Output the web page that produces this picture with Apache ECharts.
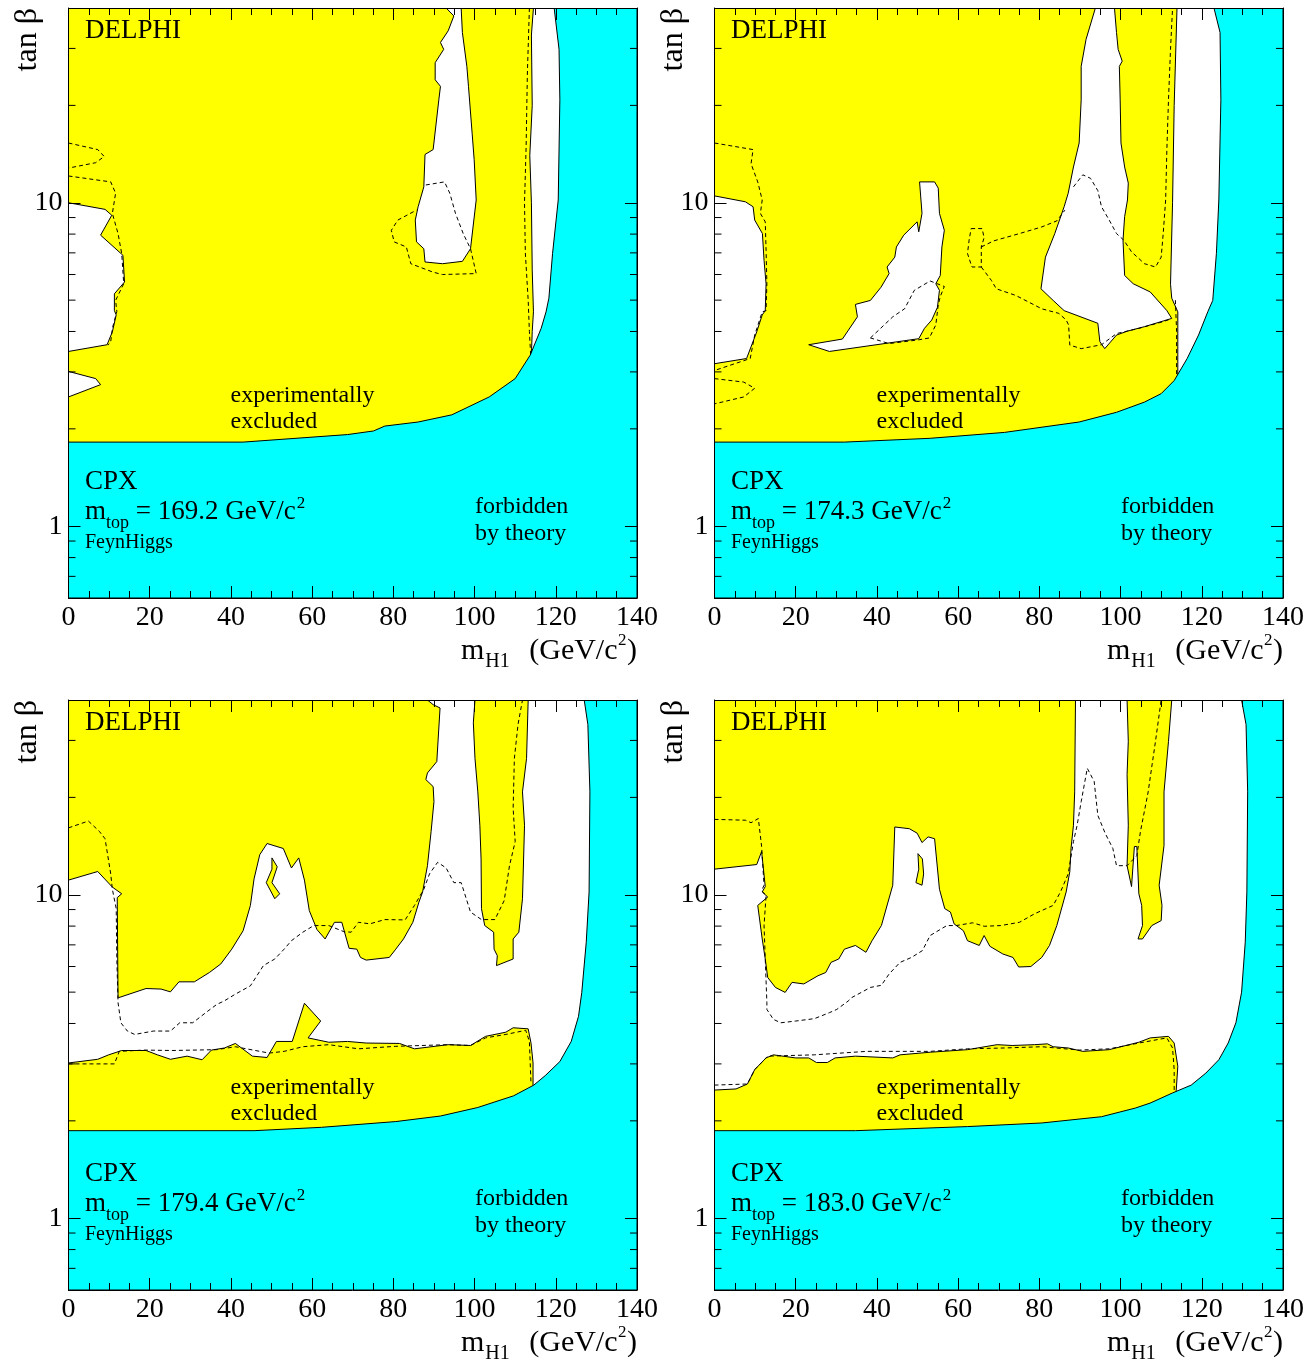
<!DOCTYPE html>
<html><head><meta charset="utf-8">
<script src="https://cdn.jsdelivr.net/npm/echarts/dist/echarts.min.js"></script>
<style>html,body{margin:0;padding:0;background:#fff}#c{width:1316px;height:1362px}</style>
</head><body><div id="c"></div>
<script>
// ---------- axis definitions ----------
const XMIN = 0, XMAX = 140, YMIN = 0.6, YMAX = 40;
const xInterval = 20;
const yLabelTicks = [1, 10];
const yMinorTicks = [0.7, 0.8, 0.9, 2, 3, 4, 5, 6, 7, 8, 9, 20, 30];
const topMasses = ['169.2', '174.3', '179.4', '183.0'];

// ---------- panel 1 (mtop = 169.2) ----------
const p1Theory = [[0,1.82],[43,1.82],[68.7,1.92],[75.1,1.97],[77.9,2.04],[86.1,2.10],[94.4,2.21],[103.6,2.51],[110,2.86],[113.7,3.38],[116.4,4.09],[117.6,4.6],[118.3,5.07],[119.2,6.96],[120.6,10.2],[121,20.8],[120.8,29.8],[119.6,40]];
const p1Excluded = [[0,40],[114.5,40],[114.0,33],[114.2,20],[113.6,14],[114.0,10],[114.2,6.2],[114.5,4.6],[114.2,4.0],[114.0,3.4],[114.0,0.6],[0,0.6]];
const p1AllowedA = [[0,10],[9.0,9.54],[10.65,9.15],[7.9,7.94],[13.4,6.88],[13.8,5.69],[11.3,5.23],[11.3,4.64],[11.75,4.5],[10.8,3.99],[9.5,3.64],[0,3.47]];
const p1AllowedB = [[0,3.01],[6.7,2.86],[7.9,2.74],[0,2.51]];
const p1AllowedC = [[93.0,40],[94.9,37.8],[93.5,34.0],[91.6,31.3],[92.4,29.8],[90.3,27.1],[90.3,24.0],[91.6,22.9],[91.2,20.8],[89.8,14.6],[87.8,14.1],[87.5,11.2],[86.1,9.72],[85.4,8.84],[85.7,7.57],[87.5,7.21],[87.8,6.56],[92.1,6.48],[97.0,6.59],[99.0,7.21],[100.4,10.2],[99.9,13.6],[99.4,16.4],[98.5,22.9],[98.1,26.4],[97.0,33.6],[96.7,40]];
const p1Exp1 = [[113.5,40],[113.0,25],[112.7,15],[112.3,10],[112.5,7],[113.2,5],[113.5,4],[113.8,3.4]];
const p1Exp2 = [[88.0,11.35],[92.6,11.6],[93.9,10.7],[95.3,9.27],[97.2,8.03],[99.0,7.21],[100.4,6.04],[92.1,6.0],[89.8,6.1],[84.3,6.48],[83.2,7.3],[80.2,7.57],[79.5,8.22],[81.1,8.84],[85.7,9.49]];
const p1Exp3 = [[0,15.3],[7.2,14.6],[8.8,13.9],[6.7,13.3],[0,12.8]];
const p1Exp4 = [[0,12.1],[10.4,11.6],[11.6,10.7],[10.8,9.27],[12.2,8.03],[13.1,6.97],[13.6,5.62],[11.6,4.99],[11.9,4.61],[10.8,4.09],[10.4,3.72],[9.7,3.63]];

// ---------- panel 2 (mtop = 174.3) ----------
const p2Theory = [[0,1.82],[32,1.82],[53.1,1.87],[71.4,1.95],[89.8,2.10],[99,2.25],[105.9,2.42],[110,2.57],[113.2,2.82],[116.4,3.30],[119.2,3.90],[121.5,4.61],[122.7,4.99],[123.6,6.97],[124.2,10.2],[124.7,20.8],[124.5,33.6],[123,40]];
const p2Excluded = [[0,40],[113.9,40],[113.2,20],[112.8,10],[112.3,5.6],[112.6,5.07],[114.1,4.6],[114.1,2.85],[114.1,0.6],[0,0.6]];
const p2AllowedA = [[0,10.5],[7.6,10.07],[9.5,9.72],[9.9,8.84],[11.8,8.03],[12.2,6.64],[12.7,5.62],[12.5,4.64],[11.75,4.5],[10.4,3.99],[7.9,3.30],[0,3.18]];
const p2AllowedB = [[50.5,11.6],[54.2,11.6],[55.1,11.1],[55.4,9.27],[56.6,8.22],[56.0,7.30],[55.6,5.96],[54.5,5.62],[55.4,5.36],[54.9,4.75],[53.5,4.34],[51.7,4.09],[50.3,3.80],[28.3,3.47],[23.2,3.64],[31.5,3.79],[35.2,4.44],[34.7,4.85],[38.4,4.99],[41.0,5.48],[43.0,6.04],[42.5,6.33],[44.4,6.79],[44.8,7.30],[46.6,7.94],[49.9,8.73],[50.3,8.13],[51.1,9.27]];
const p2AllowedC = [[93.8,40],[91.5,32.0],[90.3,26.4],[90.3,20.8],[89.8,15.3],[88.4,12.9],[87.1,10.7],[86.1,9.72],[83.8,8.03],[81.5,6.79],[80.4,5.42],[83.4,4.99],[86.1,4.64],[94.4,4.24],[94.9,3.72],[96.1,3.54],[99.0,3.90],[101.7,4.01],[105.9,4.14],[110.5,4.31],[112.6,4.39],[111.4,4.64],[107.3,5.30],[103.1,5.62],[101.0,5.96],[100.6,7.66],[101.0,9.06],[101.7,10.2],[101.9,11.5],[101.0,12.9],[100.1,15.3],[99.9,20.8],[99.7,26.4],[100.4,27.4],[99.4,29.8],[99.0,33.6],[98.5,40]];
const p2Exp1 = [[0,15.3],[9.5,14.6],[9.0,13.2],[10.65,11.6],[11.75,10.2],[11.3,9.27],[12.5,8.73],[12.7,7.13],[12.9,5.62],[12.7,4.64],[11.75,4.6],[9.9,3.90],[8.8,3.30],[0,3.03]];
const p2Exp2 = [[0,2.86],[7.2,2.79],[9.9,2.67],[7.2,2.51],[0,2.39]];
const p2Exp3 = [[38.4,3.82],[43.9,4.44],[46.8,4.70],[49.2,5.36],[53.1,5.73],[56.6,5.51],[55.6,5.13],[55.1,4.83],[54.5,4.19],[52.9,3.82],[50.3,3.77],[43.0,3.67],[38.4,3.82]];
const p2Exp4 = [[63.2,8.32],[65.9,8.32],[66.4,7.80],[65.7,7.30],[65.7,6.33],[63.4,6.33],[62.3,6.97],[62.7,7.66],[63.2,8.32]];
const p2Exp5 = [[65.7,7.30],[68.7,7.62],[75.1,8.03],[80.6,8.42],[84.3,8.79],[86.3,9.49]];
const p2Exp6 = [[65.7,6.33],[68.2,5.75],[69.4,5.42],[74.2,5.17],[80.6,4.70],[84.8,4.55],[86.6,4.34],[87.2,4.19],[87.5,3.63],[90.3,3.54],[95.3,3.64],[99.0,3.94],[104.5,4.09],[110.5,4.29],[112.3,4.37]];
const p2Exp7 = [[88.4,11.2],[90.7,12.2],[92.6,11.9],[94.4,10.9],[95.3,9.72],[97.2,8.84],[99.0,8.03],[100.8,7.66],[102.7,7.05],[105.9,6.48],[108.6,6.33],[110.0,6.79],[110.5,8.03],[111.1,10.2],[111.4,14.6],[111.8,20.8],[112.3,29.8],[112.8,40]];
const p2Exp8 = [[113.5,5.0],[113.8,4.0],[113.8,2.9]];

// ---------- panel 3 (mtop = 179.4) ----------
const p3Theory = [[0,1.865],[45.7,1.865],[62.3,1.91],[80.6,1.99],[91.6,2.07],[100.8,2.20],[109.6,2.39],[114.6,2.58],[117.4,2.76],[121,3.05],[123.8,3.52],[125.6,4.21],[126.4,4.99],[127.5,7.13],[128.2,10.2],[128.4,20.8],[127.9,33.6],[127,40]];
const p3ExcludedHigh = [[0,40],[88.4,40],[89.8,38.7],[91.5,37.8],[90.7,25.8],[88.4,23.8],[88.0,22.7],[89.8,21.6],[90.0,19.4],[89.3,15.7],[88.4,12.3],[87.2,10.2],[86.3,9.49],[84.8,8.22],[82.5,7.30],[80.6,6.79],[79.0,6.40],[73.3,6.28],[71.9,6.40],[71.0,6.79],[69.1,6.83],[67.3,8.22],[65.5,8.22],[63.2,7.30],[61.2,7.80],[59.3,8.93],[58.1,11.1],[56.7,13.0],[54.9,12.1],[52.9,13.9],[48.9,14.4],[47.1,13.3],[45.7,11.2],[44.8,9.27],[43.0,7.74],[40.2,6.79],[37.5,6.11],[34.7,5.75],[31.0,5.38],[27.2,5.38],[25.1,5.01],[22.8,5.11],[19.1,5.13],[12.2,4.8],[12.0,9.8],[13.1,10.07],[10.8,10.56],[7.2,11.8],[0,11.1]];
const p3ExcludedIsland = [[50.1,13.0],[51.4,12.2],[50.1,10.9],[52.0,10.07],[50.8,9.72],[48.7,10.9],[50.1,12.0]];
const p3ExcludedStrip = [[100.1,40],[99.7,34.0],[100.1,26.4],[100.8,20.8],[101.3,16.4],[101.6,12.9],[101.7,9.06],[102.5,8.03],[104.7,7.66],[104.8,6.79],[105.6,6.48],[105.4,6.04],[109.5,6.33],[109.5,7.30],[110.9,7.66],[111.8,9.72],[112.3,16.4],[111.8,20.8],[112.8,26.4],[113.2,40]];
const p3ExcludedLow = [[0,3.02],[7.2,3.10],[9.9,3.20],[13.1,3.30],[19.1,3.30],[21.9,3.20],[25.1,3.10],[29.2,3.17],[32.9,3.09],[35.2,3.31],[38.4,3.36],[41.1,3.47],[45.3,3.17],[48.9,3.14],[51.2,3.52],[55.1,3.52],[58.1,4.62],[62.1,4.07],[59.0,3.61],[64.1,3.50],[68.7,3.52],[73.3,3.48],[81.5,3.47],[85.2,3.34],[93.5,3.44],[99.0,3.42],[102.7,3.65],[107.7,3.76],[109.5,3.88],[113.2,3.85],[113.9,3.48],[114.4,3.02],[114.4,2.58],[114.4,0.6],[0,0.6]];
const p3Exp1 = [[0,16.1],[4.9,16.9],[7.6,15.7],[9.0,14.9],[10.4,11.6],[10.8,10.4],[11.75,9.06],[11.9,6.33],[12.2,4.64],[12.9,4.02],[14.5,3.79],[16.3,3.70],[20.9,3.79],[25.1,3.79],[27.4,4.02],[30.6,4.02],[33.8,4.32],[36.5,4.58],[38.4,4.70],[41.1,4.93],[44.8,5.23],[48.0,6.04],[50.8,6.33],[53.1,6.79],[54.9,7.21],[57.7,7.66],[60.4,8.03],[64.1,8.03],[67.8,7.69],[69.6,7.66],[71.4,8.22],[74.2,8.13],[77.9,8.38],[82.9,8.36],[85.2,9.27],[87.5,10.4],[88.9,11.6],[90.9,12.6],[93.0,12.1],[94.9,10.9],[96.7,10.9],[99.0,8.84],[101.7,8.38],[105.0,8.38],[107.3,9.60],[108.6,12.3],[110.0,14.6],[109.5,18.5],[109.8,26.4],[110.7,33.6],[111.8,40]];
const p3Exp2 = [[0,3.00],[11.3,3.00],[12.5,3.28],[18.6,3.31],[25.5,3.30],[36.5,3.32],[41.1,3.39],[49.4,3.24],[53.1,3.28],[57.7,3.39],[64.1,3.44],[71.4,3.34],[80.6,3.40],[93.5,3.44],[99.0,3.42],[102.7,3.61],[107.7,3.70],[112.6,3.81],[113.5,3.52],[113.7,3.02],[113.9,2.60]];

// ---------- panel 4 (mtop = 183.0) ----------
const p4Theory = [[0,1.865],[34.7,1.865],[62.3,1.92],[80.6,1.97],[95.3,2.06],[103.6,2.19],[107.3,2.27],[112.8,2.44],[117.4,2.58],[121,2.81],[124.2,3.09],[126.5,3.48],[128.4,4.02],[129.8,5.0],[130.7,7.13],[131.1,10.2],[131.3,20.8],[130.9,33.6],[129.8,40]];
const p4ExcludedHigh = [[0,40],[88.9,40],[88.7,20.8],[88.4,16.4],[87.8,13.9],[87.5,11.8],[86.6,10.2],[84.3,8.03],[82.5,6.97],[80.6,6.40],[77.9,6.0],[74.9,5.98],[73.5,6.40],[71.0,6.56],[67.8,6.93],[66.4,7.48],[65.2,6.97],[62.3,7.21],[61.3,7.74],[59.0,8.13],[58.1,8.84],[56.7,9.06],[55.4,10.4],[54.2,14.9],[52.6,15.1],[51.1,14.5],[49.9,15.5],[48.0,16.0],[44.4,16.2],[43.9,10.7],[41.1,8.03],[38.8,7.21],[37.3,6.64],[34.7,6.97],[32.0,6.79],[30.6,6.33],[28.7,6.18],[27.4,5.75],[25.5,5.62],[22.0,5.30],[19.1,5.36],[17.4,4.99],[15.0,5.17],[13.1,5.55],[12.5,6.33],[11.75,7.30],[10.65,9.27],[13.1,9.84],[11.75,10.2],[12.5,10.6],[11.6,13.6],[10.4,12.4],[0,12.0]];
const p4ExcludedIsland = [[50.1,13.4],[51.2,12.9],[51.5,11.6],[51.1,10.7],[49.6,10.9],[50.3,12.0]];
const p4ExcludedStrip = [[101.6,40],[101.9,29.8],[101.6,23.5],[101.9,16.4],[101.6,12.3],[102.7,10.6],[103.4,14.1],[104.0,14.1],[104.5,10.07],[105.2,9.27],[105.4,8.03],[104.3,7.30],[105.4,7.30],[107.7,8.03],[110.0,8.32],[110.2,9.27],[109.5,10.7],[110.7,14.2],[110.7,20.8],[111.8,29.8],[112.6,40]];
const p4ExcludedLow = [[0,2.49],[5.3,2.51],[8.1,2.60],[9.9,2.88],[12.7,3.13],[14.5,3.20],[20.0,3.13],[23.2,3.13],[25.1,3.03],[27.8,3.03],[29.7,3.13],[34.7,3.17],[43.9,3.13],[45.7,3.20],[53.1,3.26],[62.3,3.32],[69.6,3.44],[73.3,3.42],[78.8,3.44],[82.0,3.46],[83.4,3.39],[87.1,3.36],[90.7,3.28],[97.2,3.32],[104.5,3.50],[107.3,3.61],[111.8,3.65],[113.2,3.48],[114.1,2.95],[113.7,2.48],[113.7,0.6],[0,0.6]];
const p4Exp1 = [[0,17.1],[7.6,17.0],[9.0,16.7],[10.8,17.2],[11.6,14.1],[12.2,10.7],[11.6,10.3],[12.7,9.95],[12.2,8.03],[12.5,6.33],[12.9,4.64],[12.9,4.42],[14.5,4.12],[16.3,4.02],[20.0,4.07],[24.6,4.14],[28.3,4.32],[30.1,4.42],[32.9,4.69],[33.8,4.81],[38.4,5.17],[41.1,5.25],[43.0,5.69],[45.7,6.18],[48.5,6.40],[51.2,6.72],[53.1,7.48],[57.2,8.03],[59.5,8.03],[63.6,8.19],[66.4,7.99],[70.5,8.03],[75.1,8.22],[78.8,8.73],[83.4,9.27],[85.2,10.2],[87.1,11.6],[88.4,14.6],[89.3,16.4],[90.3,19.4],[91.8,24.6],[93.5,22.4],[94.4,17.6],[96.2,15.5],[98.1,13.9],[99.0,12.3],[101.6,12.3],[104.0,13.2],[104.9,15.7],[106.8,20.8],[107.4,23.5],[108.6,29.8],[110.0,40]];
const p4Exp2 = [[0,2.58],[8.1,2.60],[9.9,2.88],[13.1,3.17],[24.6,3.20],[37.5,3.28],[53.1,3.28],[62.3,3.34],[71.4,3.36],[80.6,3.39],[89.8,3.31],[97.2,3.34],[104.5,3.48],[111.4,3.61],[112.8,3.36],[113.2,2.88],[113.2,2.48]];

// ---------- assemble ----------
const panels = [
  {theory: p1Theory, excluded: [p1Excluded], allowed: [p1AllowedA, p1AllowedB, p1AllowedC], islands: [], expected: [p1Exp1, p1Exp2, p1Exp3, p1Exp4]},
  {theory: p2Theory, excluded: [p2Excluded], allowed: [p2AllowedA, p2AllowedB, p2AllowedC], islands: [], expected: [p2Exp1, p2Exp2, p2Exp3, p2Exp4, p2Exp5, p2Exp6, p2Exp7, p2Exp8]},
  {theory: p3Theory, excluded: [p3ExcludedHigh, p3ExcludedStrip, p3ExcludedLow], allowed: [], islands: [p3ExcludedIsland], expected: [p3Exp1, p3Exp2]},
  {theory: p4Theory, excluded: [p4ExcludedHigh, p4ExcludedStrip, p4ExcludedLow], allowed: [], islands: [p4ExcludedIsland], expected: [p4Exp1, p4Exp2]}
];

const FONT = '"Liberation Serif", "Times New Roman", Times, serif';
const YELLOW = '#ffff00', CYAN = '#00ffff', BLACK = '#000000';
const gridPos = [[68.5, 8], [714.5, 8], [68.5, 700], [714.5, 700]];
const GW = 568.5, GH = 590;

const measureCtx = document.createElement('canvas').getContext('2d');
function tw(str, size) { measureCtx.font = size + 'px ' + FONT; return measureCtx.measureText(str).width; }

const grids = [], xAxes = [], yAxes = [], series = [], elements = [];

function polygonSeries(gi, pts, fill, z) {
  return {
    type: 'custom', xAxisIndex: 2 * gi, yAxisIndex: 2 * gi, z: z, clip: true, silent: true,
    data: pts,
    renderItem: function (params, api) {
      if (params.dataIndex !== 0) return null;
      return {type: 'polygon', shape: {points: pts.map(p => api.coord(p))},
        style: {fill: fill, stroke: BLACK, lineWidth: 1}};
    }
  };
}
function lineSeries(gi, pts, z) {
  return {
    type: 'custom', xAxisIndex: 2 * gi, yAxisIndex: 2 * gi, z: z, clip: true, silent: true,
    data: pts,
    renderItem: function (params, api) {
      if (params.dataIndex !== 0) return null;
      return {type: 'polyline', shape: {points: pts.map(p => api.coord(p))},
        style: {fill: null, stroke: BLACK, lineWidth: 1, lineDash: [4, 3]}};
    }
  };
}
// text placed by its alphabetic baseline
function text(x, baseline, size, str, align) {
  return {type: 'text', x: x, y: baseline - 0.3375 * size, z: 100, silent: true,
    style: {text: str, fill: BLACK, fontSize: size, fontFamily: FONT, align: align || 'left', verticalAlign: 'middle'}};
}

panels.forEach((pn, i) => {
  const [ox, oy] = gridPos[i];
  grids.push({left: ox, top: oy, width: GW, height: GH, containLabel: false});
  const axLine = {show: true, onZero: false, lineStyle: {color: BLACK, width: 1}};
  const xBase = {gridIndex: i, type: 'value', min: XMIN, max: XMAX, interval: xInterval, z: 10,
    axisLine: axLine, axisTick: {show: true, inside: true, length: 12, lineStyle: {color: BLACK}},
    minorTick: {show: true, splitNumber: 4, length: 7, lineStyle: {color: BLACK}},
    splitLine: {show: false}, minorSplitLine: {show: false}};
  xAxes.push(Object.assign({}, xBase, {position: 'bottom',
    axisLabel: {show: true, fontSize: 28, fontFamily: FONT, color: BLACK, margin: 6}}));
  xAxes.push(Object.assign({}, xBase, {position: 'top', axisLabel: {show: false}}));
  const yBase = {gridIndex: i, type: 'log', logBase: 10, min: YMIN, max: YMAX, z: 10,
    axisLine: axLine, axisTick: {show: true, inside: true, length: 12, lineStyle: {color: BLACK}},
    minorTick: {show: false}, splitLine: {show: false}, minorSplitLine: {show: false}};
  yAxes.push(Object.assign({}, yBase, {position: 'left',
    axisLabel: {show: true, fontSize: 28, fontFamily: FONT, color: BLACK, margin: 6,
      formatter: v => { const r = Math.round(v * 1000) / 1000; return yLabelTicks.indexOf(r) >= 0 ? String(r) : ''; }}}));
  yAxes.push(Object.assign({}, yBase, {position: 'right', axisLabel: {show: false}}));

  pn.excluded.forEach(p => series.push(polygonSeries(i, p, YELLOW, 2)));
  pn.allowed.forEach(p => series.push(polygonSeries(i, p, '#ffffff', 3)));
  pn.islands.forEach(p => series.push(polygonSeries(i, p, YELLOW, 3)));
  series.push(polygonSeries(i, pn.theory.concat([[XMAX, YMAX], [XMAX, YMIN], [XMIN, YMIN]]), CYAN, 4));
  pn.expected.forEach(p => series.push(lineSeries(i, p, 5)));
  // minor log ticks on left and right frame
  series.push({
    type: 'custom', xAxisIndex: 2 * i, yAxisIndex: 2 * i, z: 6, silent: true,
    data: yMinorTicks.map(v => [XMIN, v]),
    renderItem: function (params, api) {
      const v = api.value(1);
      const a = api.coord([XMIN, v]), b = api.coord([XMAX, v]);
      return {type: 'group', children: [
        {type: 'line', shape: {x1: a[0], y1: a[1], x2: a[0] + 7, y2: a[1]}, style: {stroke: BLACK, lineWidth: 1}},
        {type: 'line', shape: {x1: b[0] - 7, y1: b[1], x2: b[0], y2: b[1]}, style: {stroke: BLACK, lineWidth: 1}}
      ]};
    }
  });

  // in-plot texts
  elements.push(text(ox + 16.5, oy + 32, 27, 'DELPHI'));
  elements.push(text(ox + 162, oy + 396, 24, 'experimentally'));
  elements.push(text(ox + 162, oy + 422, 24, 'excluded'));
  elements.push(text(ox + 16.5, oy + 483, 27, 'CPX'));
  // m_top = ... GeV/c^2
  let cx = ox + 16.5;
  elements.push(text(cx, oy + 513, 27, 'm'));
  cx += tw('m', 27);
  elements.push(text(cx, oy + 521, 18, 'top'));
  cx += tw('top', 18);
  const mainStr = ' = ' + topMasses[i] + ' GeV/c';
  elements.push(text(cx, oy + 513, 27, mainStr));
  cx += tw(mainStr, 27) + 1;
  elements.push(text(cx, oy + 501, 17, '2'));
  elements.push(text(ox + 16.5, oy + 541, 20, 'FeynHiggs'));
  elements.push(text(ox + 406.5, oy + 507, 24, 'forbidden'));
  elements.push(text(ox + 406.5, oy + 534, 24, 'by theory'));

  // x axis title: m_H1 (GeV/c^2)
  let rx = ox + GW;
  elements.push(text(rx, oy + 653, 30, ')', 'right'));
  rx -= tw(')', 30) + 0.5;
  elements.push(text(rx, oy + 638, 17, '2', 'right'));
  rx -= tw('2', 17) + 0.5;
  elements.push(text(rx, oy + 653, 30, '(GeV/c', 'right'));
  let lx = ox + 392.5;
  elements.push(text(lx, oy + 653, 30, 'm'));
  lx += tw('m', 30) + 1;
  elements.push(text(lx, oy + 660, 20, 'H1'));

  // y axis title (rotated)
  elements.push({type: 'text', x: ox - 40.5, y: oy, rotation: Math.PI / 2, z: 100, silent: true,
    style: {text: 'tan β', fill: BLACK, fontSize: 32, fontFamily: FONT, align: 'right', verticalAlign: 'middle'}});
});

const chart = echarts.init(document.getElementById('c'), null, {renderer: 'canvas'});
chart.setOption({
  animation: false,
  backgroundColor: '#ffffff',
  grid: grids, xAxis: xAxes, yAxis: yAxes, series: series,
  graphic: {elements: elements}
});
</script></body></html>
